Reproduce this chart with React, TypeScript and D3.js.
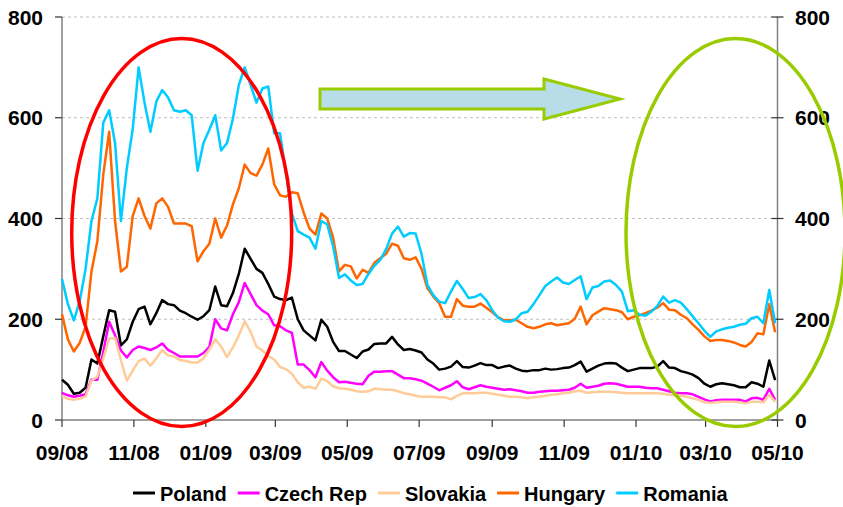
import React from "react";
import * as d3 from "d3";

// ---- data (values sampled every 5 days starting 2008-09-01) ----
const START = new Date(2008, 8, 1);
const END = new Date(2010, 4, 1);
const STEP_DAYS = 5;

const seriesNames = ["Poland", "Czech Rep", "Slovakia", "Hungary", "Romania"];

const poland = [80, 70, 52, 54, 64, 120, 112, 166, 218, 215, 148, 160, 195, 220, 225, 190, 212, 238, 230, 228,
  217, 212, 205, 199, 206, 218, 265, 228, 226, 252, 290, 340, 320, 300, 292, 270, 245, 240, 238, 243,
  200, 178, 168, 158, 199, 185, 155, 137, 137, 130, 123, 136, 140, 151, 152, 152, 165, 150, 139, 141,
  138, 134, 120, 112, 100, 102, 106, 117, 105, 104, 108, 113, 109, 109, 103, 106, 108, 102, 98, 97,
  99, 99, 102, 100, 101, 103, 104, 109, 116, 96, 102, 108, 112, 113, 112, 104, 97, 100, 103, 103,
  103, 106, 117, 104, 103, 97, 94, 90, 83, 72, 66, 71, 73, 71, 69, 65, 65, 75, 72, 66, 118, 79];

const czech = [54, 49, 46, 48, 51, 80, 80, 135, 195, 168, 138, 124, 139, 146, 143, 139, 144, 152, 139, 133,
  126, 126, 126, 126, 133, 145, 200, 182, 178, 210, 234, 272, 250, 228, 217, 210, 188, 186, 178, 173,
  110, 110, 99, 85, 115, 98, 85, 75, 76, 74, 72, 71, 88, 96, 96, 97, 97, 90, 83, 83,
  81, 78, 72, 66, 59, 64, 69, 77, 65, 61, 65, 69, 66, 64, 62, 60, 61, 59, 57, 54,
  54, 56, 57, 58, 58, 59, 60, 64, 72, 64, 66, 68, 72, 73, 72, 69, 66, 66, 66, 64,
  63, 63, 60, 57, 54, 53, 53, 51, 46, 41, 37, 39, 40, 40, 40, 40, 37, 43, 44, 40, 62, 40];

const slovakia = [47, 42, 40, 42, 47, 78, 86, 122, 162, 163, 118, 78, 98, 117, 122, 108, 122, 139, 128, 126,
  119, 117, 114, 114, 122, 140, 160, 146, 125, 144, 168, 196, 175, 146, 138, 127, 120, 105, 101, 92,
  75, 64, 66, 62, 82, 77, 67, 63, 62, 60, 57, 56, 57, 62, 61, 60, 60, 57, 53, 51,
  48, 46, 46, 46, 45, 45, 41, 48, 53, 53, 53, 54, 54, 52, 50, 48, 46, 46, 45, 43,
  45, 46, 48, 50, 51, 53, 54, 57, 58, 54, 55, 56, 56, 56, 55, 54, 53, 53, 53, 53,
  53, 53, 52, 50, 49, 48, 46, 43, 40, 35, 34, 35, 36, 36, 36, 35, 33, 36, 36, 35, 50, 36];

const hungary = [210, 160, 136, 153, 185, 295, 355, 487, 572, 395, 295, 304, 405, 440, 405, 380, 430, 440, 423, 390,
  390, 390, 385, 315, 335, 350, 400, 362, 386, 428, 460, 507, 490, 485, 507, 539, 468, 446, 443, 452,
  450, 412, 380, 368, 410, 400, 362, 295, 308, 305, 281, 298, 292, 312, 321, 330, 350, 346, 321, 318,
  323, 300, 262, 245, 232, 205, 205, 240, 227, 225, 225, 231, 223, 214, 204, 198, 198, 199, 192, 185,
  182, 185, 190, 192, 188, 190, 192, 201, 225, 190, 208, 215, 222, 220, 218, 214, 200, 205, 208, 212,
  217, 223, 232, 219, 218, 209, 202, 190, 179, 166, 157, 159, 159, 157, 154, 149, 146, 155, 172, 170, 230, 174];

const romania = [280, 230, 198, 235, 300, 395, 440, 590, 615, 550, 395, 500, 578, 700, 630, 572, 632, 655, 640, 615,
  612, 615, 605, 495, 550, 576, 605, 535, 550, 598, 665, 700, 665, 630, 658, 662, 569, 569, 490, 410,
  375, 368, 362, 340, 395, 388, 345, 282, 289, 277, 268, 270, 290, 306, 318, 339, 370, 384, 364, 371,
  370, 330, 268, 248, 235, 232, 255, 276, 260, 242, 244, 250, 238, 218, 203, 196, 195, 200, 212, 215,
  230, 248, 266, 275, 283, 273, 270, 278, 285, 240, 263, 266, 275, 277, 268, 255, 216, 218, 209, 207,
  215, 226, 245, 233, 238, 233, 220, 206, 192, 177, 165, 176, 180, 183, 185, 189, 191, 202, 205, 192, 258, 192];

const seriesValues = [poland, czech, slovakia, hungary, romania];
const seriesColors = ["#000000", "#FF00FF", "#FFCC99", "#FF6600", "#00CCFF"];

const yTickValues = [0, 200, 400, 600, 800];

// ---- layout ----
const W = 843;
const H = 507;
const PLOT_LEFT = 62;
const PLOT_RIGHT = 777.5;
const PLOT_TOP = 17;
const PLOT_BOTTOM = 420;

function measure(text: string, font: string): number {
  const c = document.createElement("canvas").getContext("2d");
  if (!c) return text.length * 10;
  c.font = font;
  return c.measureText(text).width;
}

export default function App() {
  const x = d3.scaleTime().domain([START, END]).range([PLOT_LEFT, PLOT_RIGHT]);
  const y = d3.scaleLinear().domain([0, 800]).range([PLOT_BOTTOM, PLOT_TOP]);
  const xTicks = d3.timeMonth.every(2)!.range(START, d3.timeDay.offset(END, 1));
  const fmt = d3.timeFormat("%m/%y");

  const line = d3
    .line<number>()
    .x((_, i) => x(d3.timeDay.offset(START, i * STEP_DAYS)))
    .y((d) => y(d));

  const legendFont = "bold 20px Arial, 'Liberation Sans', sans-serif";

  // legend layout
  const legendItems: { name: string; color: string; x0: number }[] = [];
  let lx = 133;
  seriesNames.forEach((n, i) => {
    legendItems.push({ name: n, color: seriesColors[i], x0: lx });
    lx += 22 + 5 + measure(n, legendFont) + 11;
  });

  const arrowPath = "M320,89 L544,89 L544,79 L620,99 L544,119 L544,109 L320,109 Z";

  return (
    <svg
      width={W}
      height={H}
      style={{ position: "absolute", left: 0, top: 0, background: "#fff" }}
      fontFamily="Arial, 'Liberation Sans', sans-serif"
    >
      <rect x={0} y={0} width={W} height={H} fill="#fff" />
      {/* gridlines */}
      {yTickValues
        .filter((v) => v > 0)
        .map((v) => (
          <line
            key={"g" + v}
            x1={PLOT_LEFT}
            x2={PLOT_RIGHT}
            y1={y(v)}
            y2={y(v)}
            stroke="#BFBFBF"
            strokeWidth={1}
            strokeDasharray="3,3"
          />
        ))}
      {/* axes */}
      <line x1={PLOT_LEFT} x2={PLOT_LEFT} y1={PLOT_TOP} y2={PLOT_BOTTOM} stroke="#808080" strokeWidth={1.5} />
      <line x1={PLOT_RIGHT} x2={PLOT_RIGHT} y1={PLOT_TOP} y2={PLOT_BOTTOM} stroke="#808080" strokeWidth={1.5} />
      <line x1={PLOT_LEFT} x2={PLOT_RIGHT} y1={PLOT_BOTTOM} y2={PLOT_BOTTOM} stroke="#808080" strokeWidth={1.5} />
      {yTickValues.map((v) => (
        <g key={"yt" + v}>
          <line x1={PLOT_LEFT - 7} x2={PLOT_LEFT} y1={y(v)} y2={y(v)} stroke="#333" strokeWidth={1.2} />
          <line x1={PLOT_RIGHT - 6} x2={PLOT_RIGHT + 6} y1={y(v)} y2={y(v)} stroke="#333" strokeWidth={1.2} />
          <text x={43} y={y(v) + 7.5} textAnchor="end" fontSize={21} fontWeight="bold" fill="#000">
            {v}
          </text>
          <text x={795} y={y(v) + 7.5} textAnchor="start" fontSize={21} fontWeight="bold" fill="#000">
            {v}
          </text>
        </g>
      ))}
      {xTicks.map((d) => (
        <g key={"xt" + d.getTime()}>
          <line x1={x(d)} x2={x(d)} y1={PLOT_BOTTOM} y2={PLOT_BOTTOM + 7} stroke="#333" strokeWidth={1.2} />
          <text x={x(d)} y={460} textAnchor="middle" fontSize={21} fontWeight="bold" fill="#000">
            {fmt(d)}
          </text>
        </g>
      ))}
      {/* series */}
      {seriesValues.map((vals, i) => (
        <path
          key={seriesNames[i]}
          d={line(vals) || ""}
          fill="none"
          stroke={seriesColors[i]}
          strokeWidth={2.5}
          strokeLinejoin="round"
        />
      ))}
      {/* annotations */}
      <ellipse cx={181.7} cy={232.5} rx={110} ry={194} fill="none" stroke="#FF0000" strokeWidth={3.5} />
      <ellipse cx={735.5} cy={232.5} rx={109.5} ry={194} fill="none" stroke="#99CC00" strokeWidth={3.5} />
      <path d={arrowPath} fill="#B7DEE8" stroke="#99CC00" strokeWidth={3} strokeLinejoin="miter" />
      {/* legend */}
      {legendItems.map((it) => (
        <g key={"lg" + it.name}>
          <line x1={it.x0} x2={it.x0 + 22} y1={493} y2={493} stroke={it.color} strokeWidth={3} />
          <text x={it.x0 + 27} y={500.5} fontSize={20} fontWeight="bold" fill="#000">
            {it.name}
          </text>
        </g>
      ))}
    </svg>
  );
}
